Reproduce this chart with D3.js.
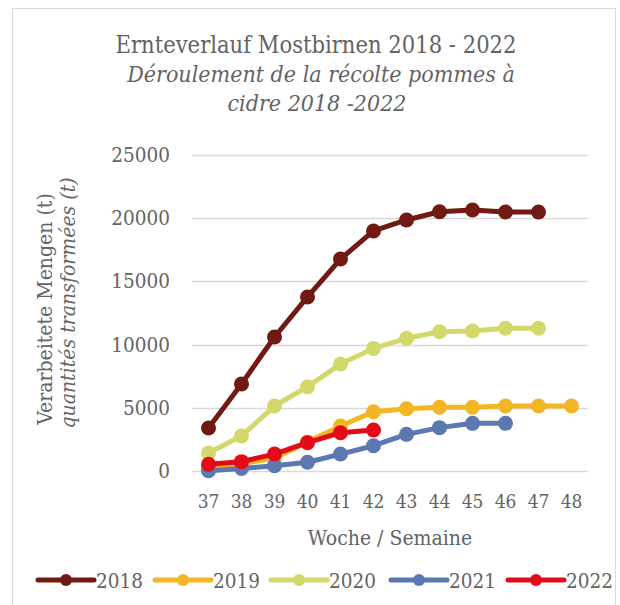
<!DOCTYPE html>
<html>
<head>
<meta charset="utf-8">
<script src="https://cdn.jsdelivr.net/npm/d3@7"></script>
<style>
  body { margin: 0; background: #fff; }
  text { font-family: "DejaVu Serif Condensed", "DejaVu Serif", serif; font-stretch: condensed; fill: #636363; }
</style>
</head>
<body>
<div id="chart"></div>
<script>
const width = 620;
const height = 605;

// weeks
const weeks = [37, 38, 39, 40, 41, 42, 43, 44, 45, 46, 47, 48];
const yTicks = [0, 5000, 10000, 15000, 20000, 25000];

// cumulative processed quantities (t) per week
const years = ["2018", "2019", "2020", "2021", "2022"];
const v2018 = [3400, 6880, 10600, 13770, 16770, 18990, 19860, 20510, 20650, 20490, 20490];
const v2019 = [350, 600, 1000, 2300, 3560, 4690, 4930, 5040, 5040, 5140, 5140, 5140];
const v2020 = [1420, 2770, 5140, 6670, 8460, 9700, 10500, 11020, 11080, 11290, 11290];
const v2021 = [20, 200, 420, 690, 1340, 2000, 2900, 3430, 3770, 3770];
const v2022 = [530, 740, 1340, 2240, 3030, 3240];

const colors = ["#701a13", "#f2b624", "#d2d86a", "#5b78b0", "#e30b17"];
const seriesValues = [v2018, v2019, v2020, v2021, v2022];

const margin = { left: 192, right: 32, top: 155, bottom: 134 };

const svg = d3
  .select("#chart")
  .append("svg")
  .attr("width", width)
  .attr("height", height);

// frame
svg.append("rect")
  .attr("x", 12.5)
  .attr("y", 8.5)
  .attr("width", 603)
  .attr("height", 620)
  .attr("fill", "none")
  .attr("stroke", "#d9d9d9");

const x = d3.scaleBand()
  .domain(weeks)
  .range([margin.left, width - margin.right]);

const y = d3.scaleLinear()
  .domain([0, 25000])
  .range([height - margin.bottom, margin.top]);

// gridlines
svg.append("g")
  .selectAll("line")
  .data(yTicks)
  .join("line")
  .attr("x1", margin.left)
  .attr("x2", width - margin.right)
  .attr("y1", d => Math.round(y(d)) + 0.5)
  .attr("y2", d => Math.round(y(d)) + 0.5)
  .attr("stroke", "#d9d9d9")
  .attr("stroke-width", 1.5);

// y axis labels
const yAxis = svg.append("g")
  .attr("transform", `translate(${margin.left - 22},0)`)
  .call(d3.axisLeft(y).tickValues(yTicks).tickFormat(d3.format("d")).tickSize(0).tickPadding(0));
yAxis.select(".domain").remove();
yAxis.selectAll("text")
  .attr("font-size", 20.5)
  .attr("font-family", null)
  .attr("fill", null);

// x axis labels
const xAxis = svg.append("g")
  .attr("transform", `translate(0,${height - margin.bottom + 23})`)
  .call(d3.axisBottom(x).tickSize(0).tickPadding(0));
xAxis.select(".domain").remove();
xAxis.selectAll("text")
  .attr("font-size", 19)
  .attr("font-family", null)
  .attr("fill", null);

// lines
const cx = i => x(weeks[i]) + x.bandwidth() / 2;
const line = d3.line()
  .x((d, i) => cx(i))
  .y(d => y(d));

const layer = svg.append("g");
seriesValues.forEach((vals, k) => {
  const g = layer.append("g");
  g.append("path")
    .attr("d", line(vals))
    .attr("fill", "none")
    .attr("stroke", colors[k])
    .attr("stroke-width", 5)
    .attr("stroke-linejoin", "round");
  g.selectAll("circle")
    .data(vals)
    .join("circle")
    .attr("cx", (d, i) => cx(i))
    .attr("cy", d => y(d))
    .attr("r", 7.5)
    .attr("fill", colors[k]);
});

// titles
const title = svg.append("text")
  .attr("text-anchor", "middle");
title.append("tspan").attr("x", 316).attr("y", 53)
  .attr("font-size", 23.5).text("Ernteverlauf Mostbirnen 2018 - 2022");
title.append("tspan").attr("x", 321).attr("y", 82)
  .attr("font-size", 23).attr("font-style", "italic")
  .text("Déroulement de la récolte pommes à");
title.append("tspan").attr("x", 317).attr("y", 111)
  .attr("font-size", 23).attr("font-style", "italic")
  .text("cidre 2018 -2022");

// axis titles
svg.append("text")
  .attr("text-anchor", "middle")
  .attr("x", 390)
  .attr("y", 545)
  .attr("font-size", 21)
  .text("Woche / Semaine");

const yt = svg.append("text")
  .attr("text-anchor", "middle")
  .attr("transform", "translate(0,309) rotate(-90)");
yt.append("tspan").attr("x", 0).attr("y", 52)
  .attr("font-size", 21).text("Verarbeitete Mengen  (t)");
yt.append("tspan").attr("x", 6).attr("y", 75)
  .attr("font-size", 21).attr("font-style", "italic")
  .text("quantités transformées (t)");

// legend
const legendX = [38, 155, 271, 391, 508];
const legend = svg.append("g")
  .selectAll("g")
  .data(years)
  .join("g")
  .attr("transform", (d, i) => `translate(${legendX[i]},580)`);
legend.append("line")
  .attr("x1", 0).attr("x2", 56)
  .attr("stroke", (d, i) => colors[i])
  .attr("stroke-width", 5)
  .attr("stroke-linecap", "round");
legend.append("circle")
  .attr("cx", 28).attr("r", 6)
  .attr("fill", (d, i) => colors[i]);
legend.append("text")
  .attr("x", 58)
  .attr("y", 7.5)
  .attr("font-size", 20.5)
  .text(d => d);
</script>
</body>
</html>
